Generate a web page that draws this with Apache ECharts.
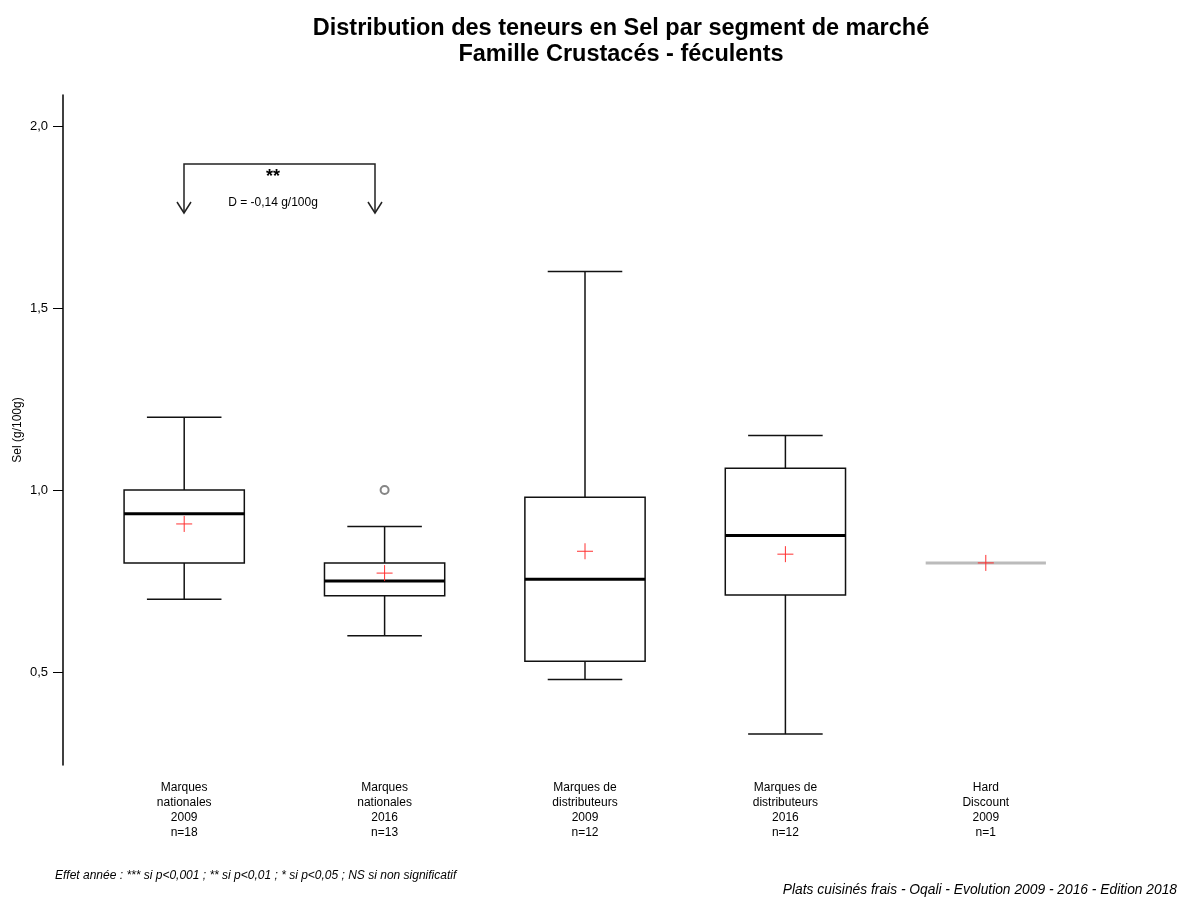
<!DOCTYPE html>
<html><head><meta charset="utf-8">
<script src="https://cdn.jsdelivr.net/npm/echarts@6/dist/echarts.min.js"></script>
<style>html,body{margin:0;padding:0;background:#fff}#c{width:1179px;height:898px}</style>
</head><body><div id="c"></div>
<script>
const categories = ['Marques\nnationales\n2009\nn=18','Marques\nnationales\n2016\nn=13','Marques de\ndistributeurs\n2009\nn=12','Marques de\ndistributeurs\n2016\nn=12','Hard\nDiscount\n2009\nn=1'];
// [low, q1, median, q3, high]
const boxValues = [
  [0.70, 0.80, 0.935, 1.00, 1.20],
  [0.60, 0.71, 0.75, 0.80, 0.90],
  [0.48, 0.53, 0.755, 0.98, 1.60],
  [0.33, 0.712, 0.875, 1.06, 1.15],
  [0.80, 0.80, 0.80, 0.80, 0.80]
];
const means = [0.907, 0.772, 0.832, 0.824, 0.80];
const outliers = [[1, 1.00]];
const yTicks = [0.5, 1.0, 1.5, 2.0];
const FONT = "'Liberation Sans', Arial, sans-serif";

const chart = echarts.init(document.getElementById('c'));
const boxData = boxValues.map((v, i) => [i, ...v, means[i]]);

function renderBox(params, api) {
  const i = api.value(0);
  const low = api.coord([i, api.value(1)]);
  const q1 = api.coord([i, api.value(2)]);
  const med = api.coord([i, api.value(3)]);
  const q3 = api.coord([i, api.value(4)]);
  const high = api.coord([i, api.value(5)]);
  const mean = api.coord([i, api.value(6)]);
  const bw = api.size([1, 0])[0] * 0.6;
  const cx = low[0];
  const hw = bw / 2, cw = bw * 0.31;
  const children = [];
  const ls = {stroke: '#111', lineWidth: 1.5, fill: null};
  if (api.value(1) === api.value(5)) {
    children.push({type: 'line', shape: {x1: cx - hw, y1: med[1], x2: cx + hw, y2: med[1]}, style: {stroke: '#bbb', lineWidth: 3}});
  } else {
    children.push({type: 'line', shape: {x1: cx, y1: high[1], x2: cx, y2: q3[1]}, style: ls});
    children.push({type: 'line', shape: {x1: cx, y1: q1[1], x2: cx, y2: low[1]}, style: ls});
    children.push({type: 'line', shape: {x1: cx - cw, y1: high[1], x2: cx + cw, y2: high[1]}, style: ls});
    children.push({type: 'line', shape: {x1: cx - cw, y1: low[1], x2: cx + cw, y2: low[1]}, style: ls});
    children.push({type: 'rect', shape: {x: cx - hw, y: q3[1], width: bw, height: q1[1] - q3[1]}, style: ls});
    children.push({type: 'line', shape: {x1: cx - hw, y1: med[1], x2: cx + hw, y2: med[1]}, style: {stroke: '#000', lineWidth: 3}});
  }
  children.push({type: 'line', shape: {x1: mean[0] - 8, y1: mean[1], x2: mean[0] + 8, y2: mean[1]}, style: {stroke: '#ff3030', lineWidth: 1}});
  children.push({type: 'line', shape: {x1: mean[0], y1: mean[1] - 8, x2: mean[0], y2: mean[1] + 8}, style: {stroke: '#ff3030', lineWidth: 1}});
  return {type: 'group', children};
}

const option = {
  animation: false,
  backgroundColor: '#fff',
  title: {
    text: 'Distribution des teneurs en Sel par segment de marché\nFamille Crustacés - féculents',
    left: 616, top: 11, textAlign: 'center',
    textStyle: {fontFamily: FONT, fontSize: 23.5, fontWeight: 'bold', color: '#000', lineHeight: 26}
  },
  grid: {left: 84, right: 93, top: 95, bottom: 133},
  xAxis: {
    type: 'category', data: categories,
    axisLine: {show: false}, axisTick: {show: false},
    axisLabel: {fontFamily: FONT, fontSize: 12, color: '#000', lineHeight: 15, margin: 15, interval: 0}
  },
  yAxis: {
    type: 'value', min: 0.245, max: 2.085, offset: 21,
    name: 'Sel (g/100g)', nameLocation: 'middle', nameGap: 39, nameMoveOverlap: false,
    nameTextStyle: {fontFamily: FONT, fontSize: 12, color: '#000'},
    axisLine: {show: true, lineStyle: {color: '#000', width: 1.5}},
    axisTick: {show: true, length: 10, lineStyle: {color: '#000'}, customValues: yTicks},
    axisLabel: {fontFamily: FONT, fontSize: 13, color: '#000', margin: 15, customValues: yTicks,
      formatter: v => v.toFixed(1).replace('.', ',')},
    splitLine: {show: false}
  },
  series: [
    {type: 'custom', renderItem: renderBox, data: boxData, encode: {x: 0, y: [1, 5]}, z: 2},
    {type: 'scatter', data: outliers, symbol: 'emptyCircle', symbolSize: 8,
      itemStyle: {color: '#666', borderColor: '#666', borderWidth: 1}, z: 3}
  ],
  graphic: [
    {type: 'polyline', shape: {points: [[184, 213], [184, 164], [375, 164], [375, 213]]}, style: {stroke: '#222', lineWidth: 1.5, fill: null}},
    {type: 'polyline', shape: {points: [[177, 202], [184, 213], [191, 202]]}, style: {stroke: '#222', lineWidth: 1.5, fill: null}},
    {type: 'polyline', shape: {points: [[368, 202], [375, 213], [382, 202]]}, style: {stroke: '#222', lineWidth: 1.5, fill: null}},
    {type: 'text', x: 273, y: 168, style: {text: '**', font: 'bold 18px ' + FONT, fill: '#000', align: 'center', verticalAlign: 'top'}},
    {type: 'text', x: 273, y: 203, style: {text: 'D = -0,14 g/100g', font: '12px ' + FONT, fill: '#000', align: 'center', verticalAlign: 'middle'}},
    {type: 'text', x: 55, y: 876, style: {text: 'Effet année : *** si p<0,001 ; ** si p<0,01 ; * si p<0,05 ; NS si non significatif', font: 'italic 12px ' + FONT, fill: '#000', align: 'left', verticalAlign: 'middle'}},
    {type: 'text', x: 1177, y: 890, style: {text: 'Plats cuisinés frais - Oqali - Evolution 2009 - 2016 - Edition 2018', font: 'italic 13.8px ' + FONT, fill: '#000', align: 'right', verticalAlign: 'middle'}}
  ]
};
chart.setOption(option);
</script>
</body></html>
